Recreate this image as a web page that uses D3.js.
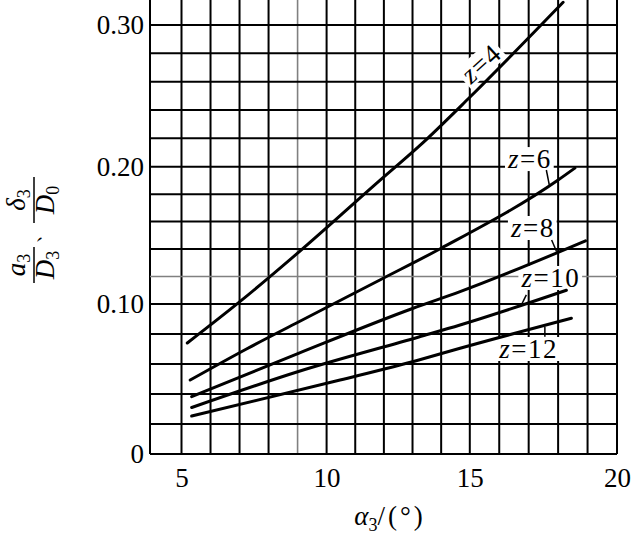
<!DOCTYPE html>
<html>
<head>
<meta charset="utf-8">
<script src="https://cdn.jsdelivr.net/npm/d3@7"></script>
<style>
  html, body { margin: 0; padding: 0; background: #fff; }
  svg { display: block; }
</style>
</head>
<body>
<svg id="chart" width="632" height="535"></svg>
<script>
// ---------------- data ----------------
const series = ["z=4", "z=6", "z=8", "z=10", "z=12"];
const z4x  = [5.2, 7.0, 9.0, 11.86, 13.26, 15.0, 18.17];
const z4y  = [0.074, 0.1015, 0.137, 0.190, 0.215, 0.249, 0.316];
const z6x  = [5.3, 7.24, 9.03, 11.86, 14.0, 18.0, 18.57];
const z6y  = [0.0493, 0.070, 0.088, 0.1175, 0.1406, 0.1903, 0.199];
const z8x  = [5.35, 9.03, 13.0, 14.66, 18.93];
const z8y  = [0.0382, 0.0671, 0.097, 0.109, 0.146];
const z10x = [5.35, 9.03, 13.22, 14.66, 18.28];
const z10y = [0.031, 0.055, 0.078, 0.086, 0.110];
const z12x = [5.35, 10.47, 13.22, 14.66, 18.45];
const z12y = [0.0253, 0.0493, 0.0627, 0.0705, 0.0905];

const xTicks = [5, 10, 15, 20];
const xTickLabels = ["5", "10", "15", "20"];
const yTicks = [0, 0.10, 0.20, 0.30];
const yTickLabels = ["0", "0.10", "0.20", "0.30"];
const xGrid = [4,5,6,7,8,9,10,11,12,13,14,15,16,17,18,19,20];
const yGrid = [0,0.02,0.04,0.06,0.08,0.10,0.12,0.14,0.16,0.18,0.20,0.22,0.24,0.26,0.28,0.30];
const xGridGrey = [9];
const yGridGrey = [0.12];
const xMin = 4, xMax = 20, yMin = 0, yTop = 0.3178;

// label anchors (data coords) and leader lines
const labelX = [15.38, 17.04, 17.14, 17.75, 17.0];
const labelY = [0.2732, 0.199, 0.1488, 0.1124, 0.064];
const leaderX1 = [null, 17.6, 17.78, 16.92, 17.55];
const leaderY1 = [null, 0.1976, 0.1466, 0.1066, 0.0849];
const leaderX2 = [null, 17.7, 17.95, 16.75, 17.55];
const leaderY2 = [null, 0.1867, 0.1381, 0.0993, 0.0782];

// ---------------- drawing ----------------
const svg = d3.select("#chart");
const FONT = "'Liberation Serif', 'Times New Roman', serif";

const x = d3.scaleLinear().domain([4, 5, 10, 15, 20]).range([150, 181.5, 326.6, 469.8, 617]);
const y = d3.scaleLinear().domain([0, 0.1, 0.2, 0.3]).range([454, 304, 166.7, 25]);

const gGrid = svg.append("g");
gGrid.selectAll("line.v").data(xGrid).join("line")
  .attr("x1", d => x(d)).attr("x2", d => x(d))
  .attr("y1", y(yMin)).attr("y2", y(yTop))
  .attr("stroke", d => xGridGrey.includes(d) ? "#808080" : "#000")
  .attr("stroke-width", d => xGridGrey.includes(d) ? 1.6 : 2);
gGrid.selectAll("line.h").data(yGrid).join("line")
  .attr("y1", d => y(d)).attr("y2", d => y(d))
  .attr("x1", x(xMin)).attr("x2", x(xMax))
  .attr("stroke", d => yGridGrey.some(g => Math.abs(g - d) < 1e-9) ? "#808080" : "#000")
  .attr("stroke-width", d => yGridGrey.some(g => Math.abs(g - d) < 1e-9) ? 1.6 : 2);

// axes (labels only)
const gy = svg.append("g").attr("transform", `translate(${x(xMin)},0)`)
  .call(d3.axisLeft(y).tickValues(yTicks).tickSize(0).tickPadding(6)
        .tickFormat((d, i) => yTickLabels[i]));
gy.select(".domain").remove();
gy.selectAll("text").attr("font-family", FONT).attr("font-size", 27).attr("fill", "#000");

const gx = svg.append("g").attr("transform", `translate(0,${y(yMin)})`)
  .call(d3.axisBottom(x).tickValues(xTicks).tickSize(0).tickPadding(14)
        .tickFormat((d, i) => xTickLabels[i]));
gx.select(".domain").remove();
gx.selectAll("text").attr("font-family", FONT).attr("font-size", 27).attr("fill", "#000");

// curve labels
const seriesX = [z4x, z6x, z8x, z10x, z12x];
const seriesY = [z4y, z6y, z8y, z10y, z12y];
const gBg = svg.append("g");
const gCurves = svg.append("g");
const gLabels = svg.append("g");

const line = d3.line().x(d => x(d[0])).y(d => y(d[1])).curve(d3.curveMonotoneX);

series.forEach((name, i) => {
  const pts = seriesX[i].map((v, k) => [v, seriesY[i][k]]);
  gCurves.append("path").attr("d", line(pts))
    .attr("fill", "none").attr("stroke", "#000").attr("stroke-width", 3)
    .attr("stroke-linecap", "round");

  const lx = x(labelX[i]), ly = y(labelY[i]);
  const rot = i === 0 ? -42 : 0;
  const t = gLabels.append("text")
    .attr("transform", `translate(${lx},${ly}) rotate(${rot})`)
    .attr("text-anchor", "middle")
    .attr("dy", i === 0 ? "0.35em" : 0)
    .attr("font-family", FONT).attr("font-size", 27)
    .attr("letter-spacing", 1.5)
    .attr("fill", "#000");
  const parts = name.split("=");
  t.append("tspan").attr("font-style", "italic").text(parts[0]);
  t.append("tspan").text("=" + parts[1]);
  const bb = t.node().getBBox();
  gBg.append("rect")
    .attr("transform", `translate(${lx},${ly}) rotate(${rot})`)
    .attr("x", bb.x - 2).attr("y", bb.y + 3).attr("width", bb.width + 4).attr("height", bb.height - 6)
    .attr("fill", "#fff");

  if (leaderX1[i] !== null) {
    gLabels.append("line")
      .attr("x1", x(leaderX1[i])).attr("y1", y(leaderY1[i]))
      .attr("x2", x(leaderX2[i])).attr("y2", y(leaderY2[i]))
      .attr("stroke", "#000").attr("stroke-width", 1.5);
  }
});

// x axis title
const xt = svg.append("text")
  .attr("x", 390).attr("y", 525)
  .attr("text-anchor", "middle")
  .attr("font-family", FONT).attr("font-size", 27).attr("fill", "#000");
xt.append("tspan").attr("font-style", "italic").text("α");
xt.append("tspan").attr("font-size", 18).attr("dy", 6).text("3");
xt.append("tspan").attr("dy", -6).attr("letter-spacing", 3).text("/(°)");

// y axis title (two stacked fractions, rotated)
const yl = svg.append("g").attr("transform", "translate(34,230) rotate(-90)");
const fracs = [
  { num: "a", numSub: "3", den: "D", denSub: "3", cx: -35, w: 36 },
  { num: "δ", numSub: "3", den: "D", denSub: "0", cx: 30, w: 46 }
];
fracs.forEach(f => {
  const n = yl.append("text").attr("x", f.cx).attr("y", -9)
    .attr("text-anchor", "middle").attr("font-family", FONT).attr("font-size", 27).attr("fill", "#000");
  n.append("tspan").attr("font-style", "italic").text(f.num);
  n.append("tspan").attr("font-size", 18).attr("dy", 5).text(f.numSub);
  yl.append("line").attr("x1", f.cx - f.w / 2).attr("x2", f.cx + f.w / 2)
    .attr("y1", 0).attr("y2", 0).attr("stroke", "#000").attr("stroke-width", 1.5);
  const d = yl.append("text").attr("x", f.cx).attr("y", 20)
    .attr("text-anchor", "middle").attr("font-family", FONT).attr("font-size", 27).attr("fill", "#000");
  d.append("tspan").attr("font-style", "italic").text(f.den);
  d.append("tspan").attr("font-size", 18).attr("dy", 5).text(f.denSub);
});
yl.append("text").attr("x", -3).attr("y", 5).attr("text-anchor", "middle")
  .attr("font-family", FONT).attr("font-size", 22).attr("fill", "#000").text("、");
</script>
</body>
</html>
